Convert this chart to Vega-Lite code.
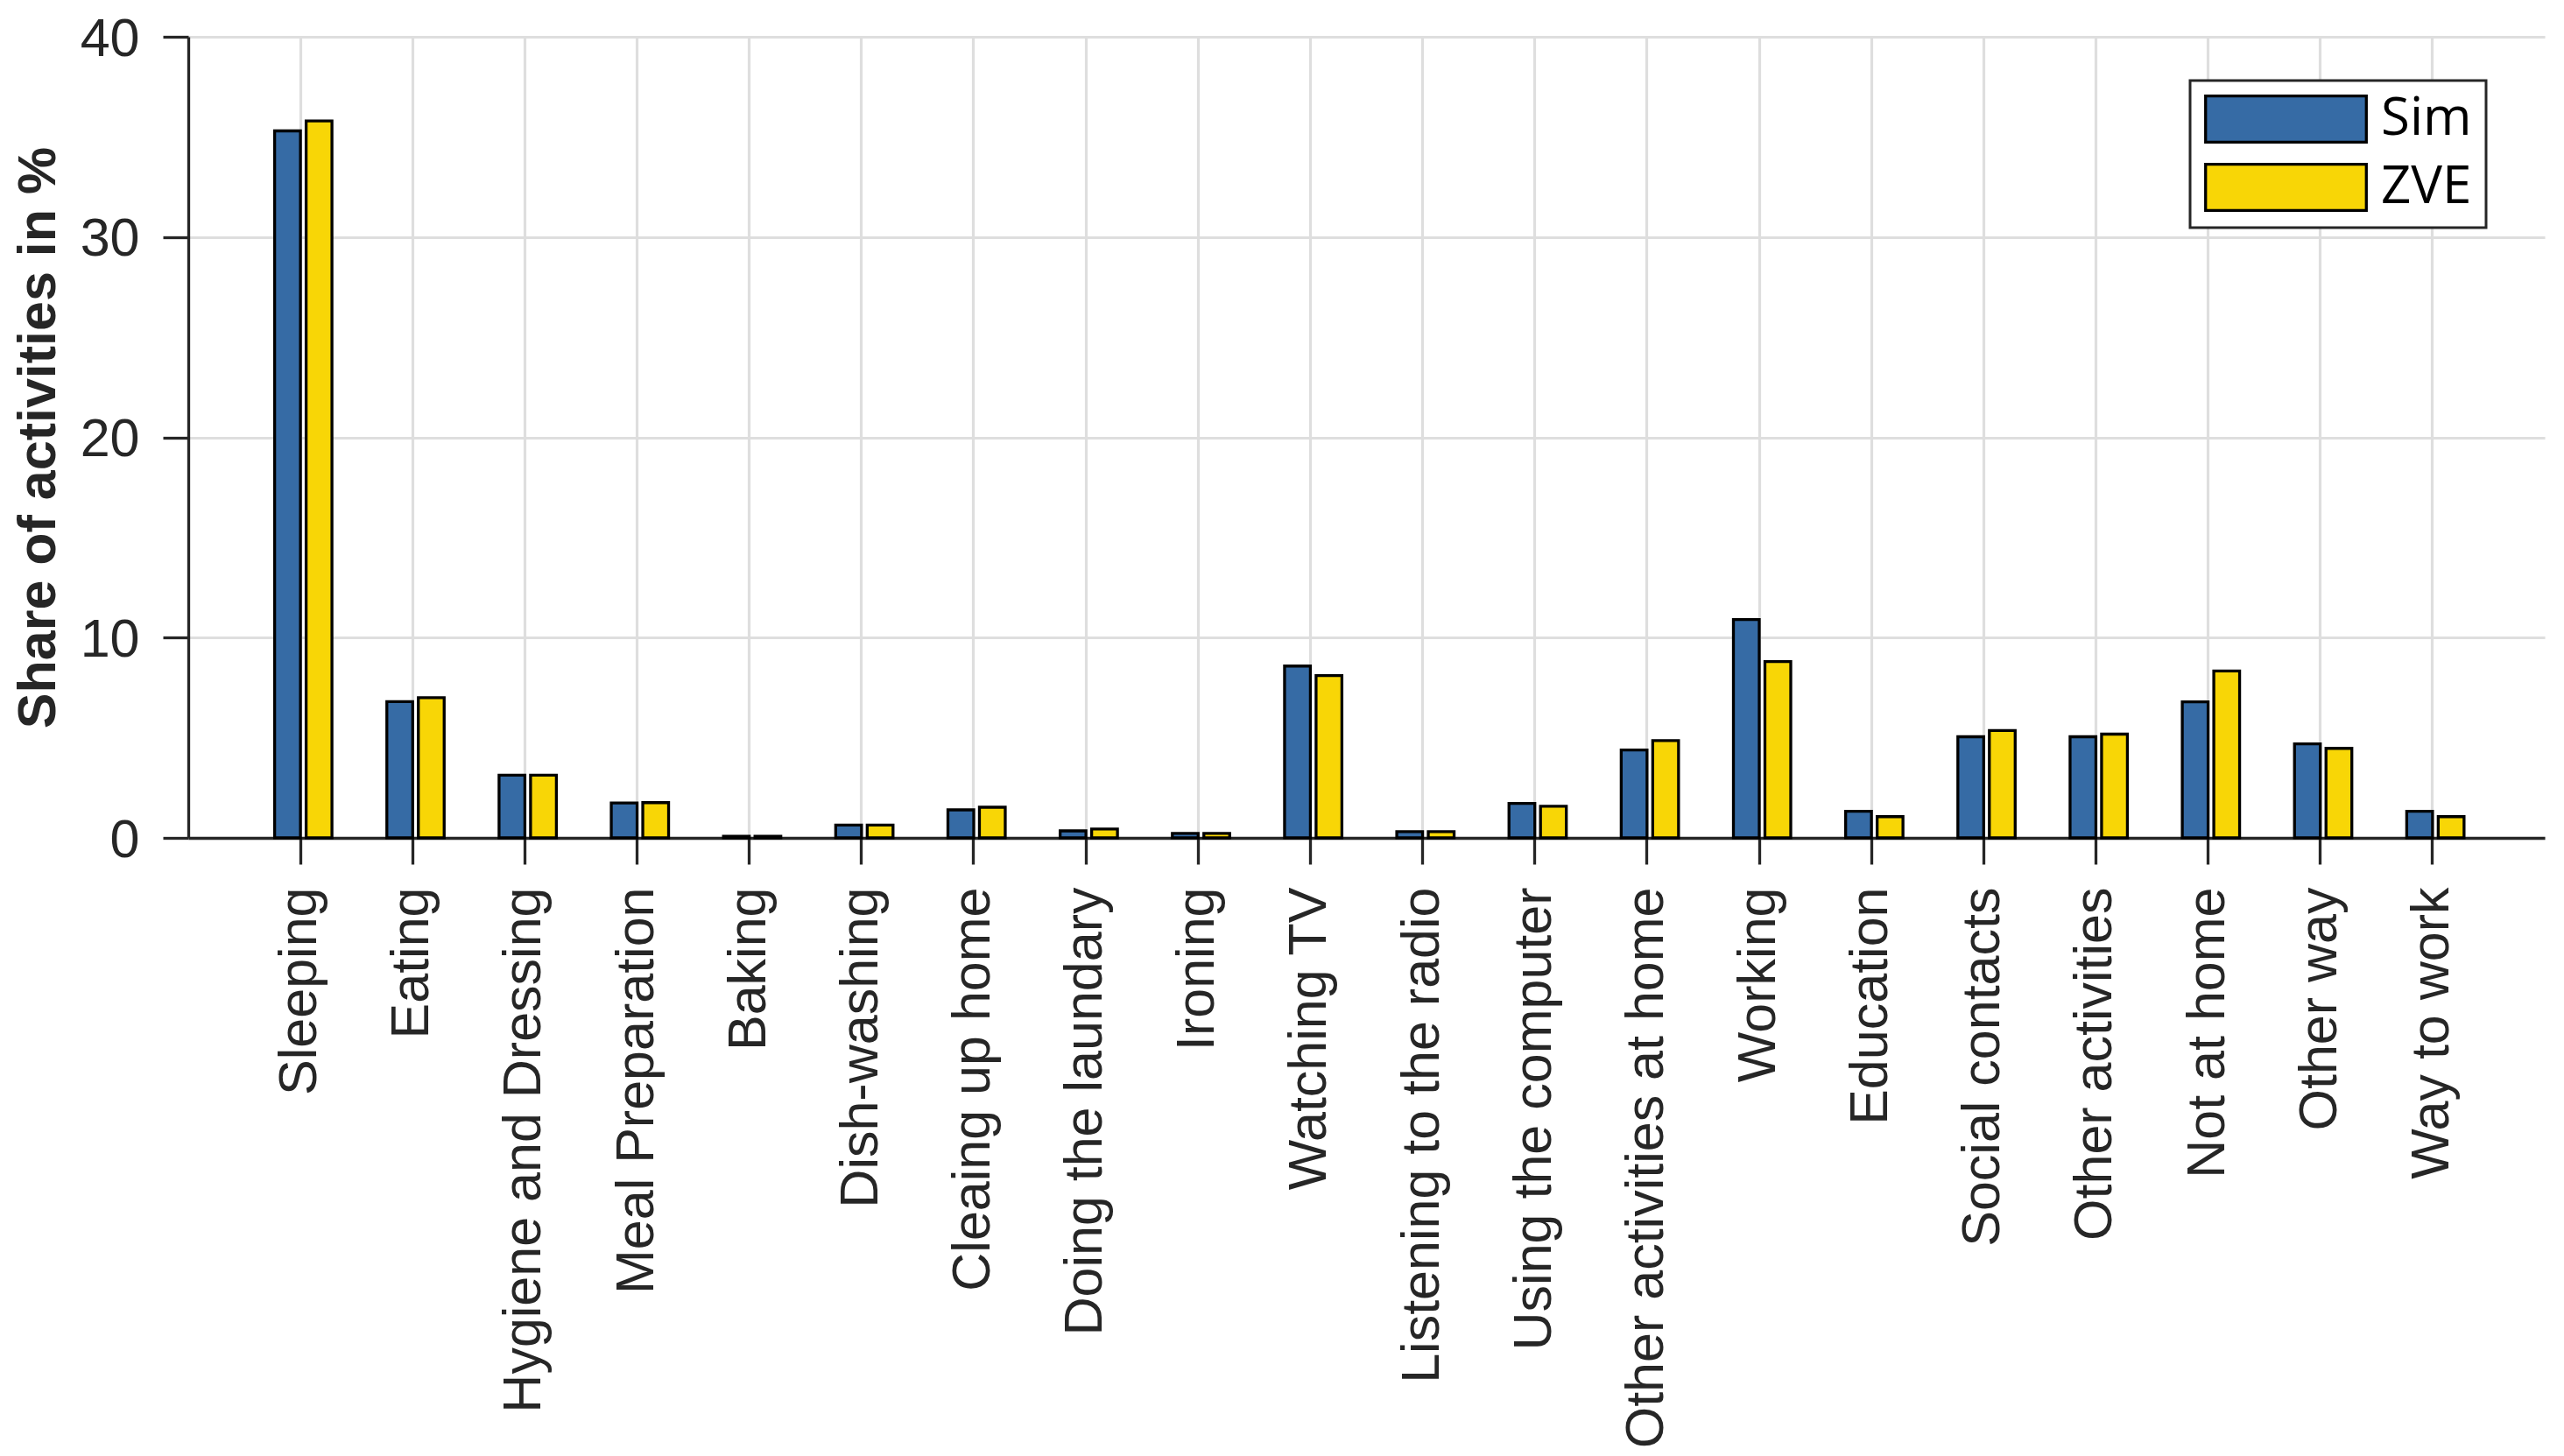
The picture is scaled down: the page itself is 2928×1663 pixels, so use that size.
{
  "$schema": "https://vega.github.io/schema/vega-lite/v6.json",
  "width": 2691,
  "height": 915,
  "autosize": {"type": "none"},
  "padding": {"left": 215, "top": 42, "right": 22, "bottom": 706},
  "background": "white",
  "config": {"view": {"stroke": null}},
  "data": {
    "values": [
      {"activity": "Sleeping", "series": "Sim", "share": 35.3},
      {"activity": "Sleeping", "series": "ZVE", "share": 35.8},
      {"activity": "Eating", "series": "Sim", "share": 6.8},
      {"activity": "Eating", "series": "ZVE", "share": 7.0},
      {"activity": "Hygiene and Dressing", "series": "Sim", "share": 3.13},
      {"activity": "Hygiene and Dressing", "series": "ZVE", "share": 3.13},
      {"activity": "Meal Preparation", "series": "Sim", "share": 1.74},
      {"activity": "Meal Preparation", "series": "ZVE", "share": 1.76},
      {"activity": "Baking", "series": "Sim", "share": 0.08},
      {"activity": "Baking", "series": "ZVE", "share": 0.08},
      {"activity": "Dish-washing", "series": "Sim", "share": 0.64},
      {"activity": "Dish-washing", "series": "ZVE", "share": 0.64},
      {"activity": "Cleaing up home", "series": "Sim", "share": 1.4},
      {"activity": "Cleaing up home", "series": "ZVE", "share": 1.53},
      {"activity": "Doing the laundary", "series": "Sim", "share": 0.35},
      {"activity": "Doing the laundary", "series": "ZVE", "share": 0.44},
      {"activity": "Ironing", "series": "Sim", "share": 0.22},
      {"activity": "Ironing", "series": "ZVE", "share": 0.22},
      {"activity": "Watching TV", "series": "Sim", "share": 8.58},
      {"activity": "Watching TV", "series": "ZVE", "share": 8.1},
      {"activity": "Listening to the radio", "series": "Sim", "share": 0.31},
      {"activity": "Listening to the radio", "series": "ZVE", "share": 0.31},
      {"activity": "Using the computer", "series": "Sim", "share": 1.72},
      {"activity": "Using the computer", "series": "ZVE", "share": 1.58},
      {"activity": "Other activities at home", "series": "Sim", "share": 4.39},
      {"activity": "Other activities at home", "series": "ZVE", "share": 4.86},
      {"activity": "Working", "series": "Sim", "share": 10.9},
      {"activity": "Working", "series": "ZVE", "share": 8.8},
      {"activity": "Education", "series": "Sim", "share": 1.33},
      {"activity": "Education", "series": "ZVE", "share": 1.06},
      {"activity": "Social contacts", "series": "Sim", "share": 5.05},
      {"activity": "Social contacts", "series": "ZVE", "share": 5.36},
      {"activity": "Other activities", "series": "Sim", "share": 5.05},
      {"activity": "Other activities", "series": "ZVE", "share": 5.18},
      {"activity": "Not at home", "series": "Sim", "share": 6.79},
      {"activity": "Not at home", "series": "ZVE", "share": 8.33},
      {"activity": "Other way", "series": "Sim", "share": 4.69},
      {"activity": "Other way", "series": "ZVE", "share": 4.47},
      {"activity": "Way to work", "series": "Sim", "share": 1.33},
      {"activity": "Way to work", "series": "ZVE", "share": 1.06}
    ]
  },
  "mark": {"type": "bar", "stroke": "#000000", "strokeWidth": 3.3, "width": {"band": 0.82}},
  "encoding": {
    "x": {
      "field": "activity",
      "type": "nominal",
      "sort": null,
      "scale": {"paddingInner": 0.4385, "paddingOuter": 0.719},
      "axis": {
        "title": null,
        "labelAngle": -90,
        "labelFont": "Liberation Sans",
        "labelFontSize": 61,
        "labelColor": "#262626",
        "labelPadding": 26,
        "labelLimit": 0,
        "labelOverlap": false,
        "tickSize": 30,
        "tickWidth": 3.3,
        "tickColor": "#262626",
        "domainColor": "#262626",
        "domainWidth": 3.3,
        "grid": true,
        "gridColor": "#dedede",
        "gridWidth": 3.2,
        "bandPosition": 0.5
      }
    },
    "xOffset": {
      "field": "series",
      "type": "nominal",
      "sort": ["Sim", "ZVE"],
      "scale": {"paddingInner": 0, "paddingOuter": 0}
    },
    "y": {
      "field": "share",
      "type": "quantitative",
      "scale": {"domain": [0, 40], "nice": false},
      "axis": {
        "title": "Share of activities in %",
        "titleFont": "Liberation Sans",
        "titleFontSize": 61,
        "titleFontWeight": "bold",
        "titleColor": "#262626",
        "titleAngle": -90,
        "titleAlign": "center",
        "titleBaseline": "alphabetic",
        "titleX": -153,
        "titleY": 457.5,
        "values": [0, 10, 20, 30, 40],
        "labelFont": "Liberation Sans",
        "labelFontSize": 61,
        "labelColor": "#262626",
        "labelPadding": 27,
        "labelOffset": 3,
        "tickSize": 29,
        "tickWidth": 3.3,
        "tickColor": "#262626",
        "domainColor": "#262626",
        "domainWidth": 3.3,
        "grid": true,
        "gridColor": "#dedede",
        "gridWidth": 3.2
      }
    },
    "color": {
      "field": "series",
      "type": "nominal",
      "scale": {"domain": ["Sim", "ZVE"], "range": ["#366BA5", "#F8D606"]},
      "legend": {
        "title": null,
        "orient": "none",
        "legendX": 2286,
        "legendY": 50,
        "symbolType": "M-1,-0.287L1,-0.287L1,0.287L-1,0.287Z",
        "symbolSize": 33700,
        "symbolStrokeColor": "#000000",
        "symbolStrokeWidth": 3.3,
        "symbolOpacity": 1,
        "clipHeight": 56,
        "rowPadding": 18,
        "padding": 16,
        "strokeColor": "#262626",
        "fillColor": "white",
        "cornerRadius": 0,
        "labelFont": "Open Sans",
        "labelFontSize": 60,
        "labelColor": "#000000",
        "labelOffset": 15,
        "labelLimit": 0,
        "encode": {"legend": {"update": {"strokeWidth": {"value": 3}}}}
      }
    }
  }
}
